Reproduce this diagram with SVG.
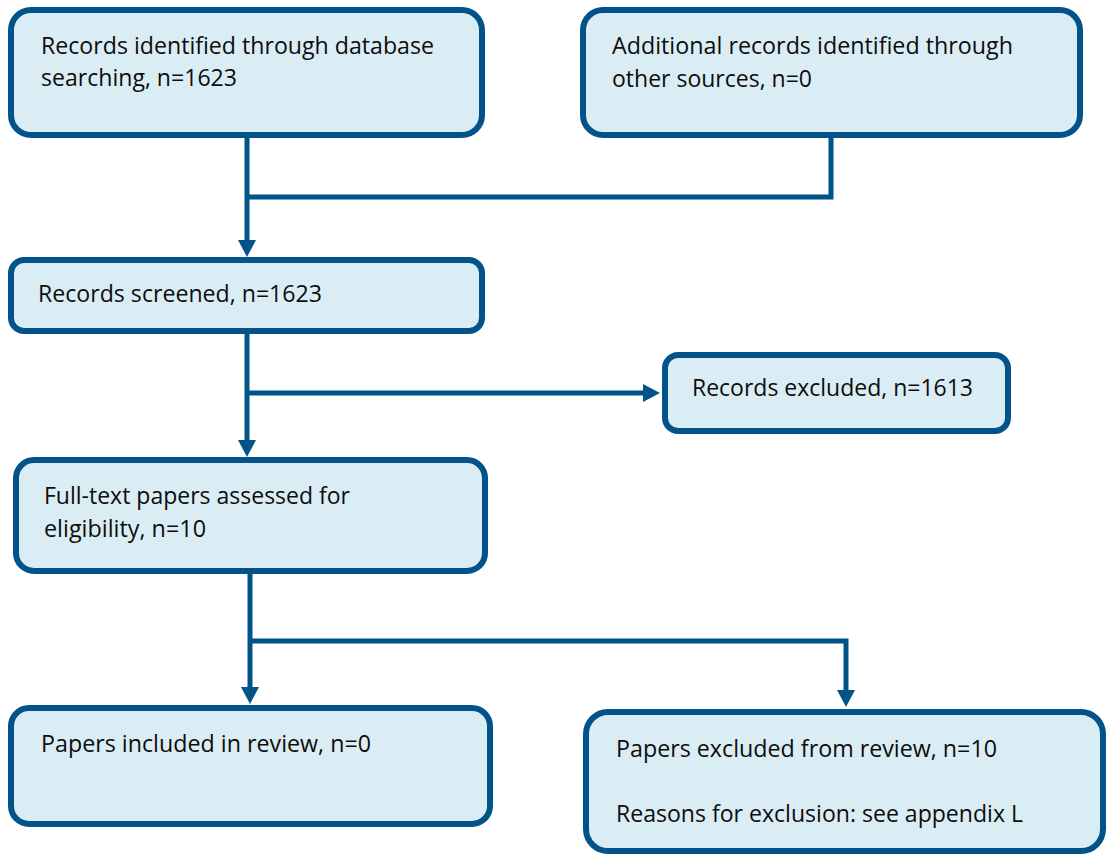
<svg xmlns="http://www.w3.org/2000/svg" width="1107" height="855" viewBox="0 0 1107 855">
<style>
.box{fill:#DBEDF4;stroke:#03538B;stroke-width:6}
.lbl{font-family:"Open Sans","Noto Sans","Liberation Sans",sans-serif;font-size:23px;fill:#0d0d0d}
.con{fill:none;stroke:#03538B;stroke-width:5;stroke-linejoin:miter}
</style>
<defs>
<marker id="arr" markerUnits="userSpaceOnUse" markerWidth="18" markerHeight="18" refX="7" refY="9" orient="auto">
<path d="M0,0 L17,9 L0,18 z" fill="#03538B"/>
</marker>
</defs>
<rect width="1107" height="855" fill="#ffffff"/>
<g id="connectors">
<path class="con" d="M247,138 V247" marker-end="url(#arr)"/>
<path class="con" d="M831,138 V197 H247"/>
<path class="con" d="M247,334 V447" marker-end="url(#arr)"/>
<path class="con" d="M247,393 H650" marker-end="url(#arr)"/>
<path class="con" d="M250,574 V694" marker-end="url(#arr)"/>
<path class="con" d="M250,641 H846 V697" marker-end="url(#arr)"/>
</g>
<g id="n1">
<rect class="box" x="11" y="10" width="471" height="125" rx="20"/>
<text class="lbl" x="41" y="54" textLength="393" lengthAdjust="spacingAndGlyphs">Records identified through database</text>
<text class="lbl" x="41" y="86" textLength="196" lengthAdjust="spacingAndGlyphs">searching, n=1623</text>
</g>
<g id="n2">
<rect class="box" x="583" y="10" width="497" height="125" rx="20"/>
<text class="lbl" x="612" y="54" textLength="401" lengthAdjust="spacingAndGlyphs">Additional records identified through</text>
<text class="lbl" x="612" y="87" textLength="200" lengthAdjust="spacingAndGlyphs">other sources, n=0</text>
</g>
<g id="n3">
<rect class="box" x="11" y="260" width="471" height="71" rx="13"/>
<text class="lbl" x="38" y="302" textLength="284" lengthAdjust="spacingAndGlyphs">Records screened, n=1623</text>
</g>
<g id="n4">
<rect class="box" x="665" y="355" width="343" height="76" rx="13"/>
<text class="lbl" x="692" y="396" textLength="281" lengthAdjust="spacingAndGlyphs">Records excluded, n=1613</text>
</g>
<g id="n5">
<rect class="box" x="16" y="460" width="469" height="111" rx="18"/>
<text class="lbl" x="44" y="504" textLength="306" lengthAdjust="spacingAndGlyphs">Full-text papers assessed for</text>
<text class="lbl" x="44" y="537" textLength="162" lengthAdjust="spacingAndGlyphs">eligibility, n=10</text>
</g>
<g id="n6">
<rect class="box" x="11" y="708" width="479" height="116" rx="18"/>
<text class="lbl" x="41" y="752" textLength="330" lengthAdjust="spacingAndGlyphs">Papers included in review, n=0</text>
</g>
<g id="n7">
<rect class="box" x="586" y="712" width="517" height="139" rx="22"/>
<text class="lbl" x="616" y="757" textLength="381" lengthAdjust="spacingAndGlyphs">Papers excluded from review, n=10</text>
<text class="lbl" x="616" y="822" textLength="407" lengthAdjust="spacingAndGlyphs">Reasons for exclusion: see appendix L</text>
</g>
</svg>
